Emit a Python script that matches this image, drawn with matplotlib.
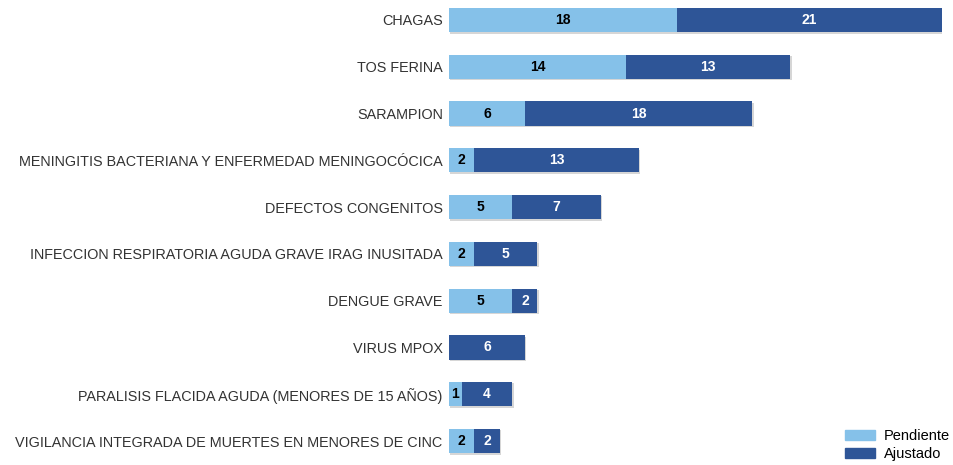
import matplotlib
matplotlib.use("Agg")
import matplotlib.pyplot as plt
import matplotlib.patheffects as pe
from matplotlib.patches import Patch

plt.rcParams['font.family'] = ['Liberation Sans', 'DejaVu Sans']

categories = [
    "CHAGAS",
    "TOS FERINA",
    "SARAMPION",
    "MENINGITIS BACTERIANA Y ENFERMEDAD MENINGOCÓCICA",
    "DEFECTOS CONGENITOS",
    "INFECCION RESPIRATORIA AGUDA GRAVE IRAG INUSITADA",
    "DENGUE GRAVE",
    "VIRUS MPOX",
    "PARALISIS FLACIDA AGUDA (MENORES DE 15 AÑOS)",
    "VIGILANCIA INTEGRADA DE MUERTES EN MENORES DE CINC",
]
pendiente = [18, 14, 6, 2, 5, 2, 5, 0, 1, 2]
ajustado = [21, 13, 18, 13, 7, 5, 2, 6, 4, 2]
series_names = ["Pendiente", "Ajustado"]

c_light = "#85C1E9"
c_dark = "#2E5597"

fig = plt.figure(figsize=(9.54, 4.65), dpi=100)
ax = fig.add_axes([449/954, 0, (942-449)/954, 1])

y = list(range(len(categories)))
shadow = [pe.SimplePatchShadow(offset=(1.0, -1.0), shadow_rgbFace='#999999', alpha=0.4), pe.Normal()]
ax.barh(y, pendiente, height=0.52, color=c_light, path_effects=shadow)
ax.barh(y, ajustado, left=pendiente, height=0.52, color=c_dark, path_effects=shadow)

for i in y:
    if pendiente[i] > 0:
        ax.text(pendiente[i] / 2, i, str(pendiente[i]), ha='center', va='center',
                fontsize=10, fontweight='bold', color='black')
    if ajustado[i] > 0:
        ax.text(pendiente[i] + ajustado[i] / 2, i, str(ajustado[i]), ha='center', va='center',
                fontsize=10, fontweight='bold', color='white')

ax.set_xlim(0, 39)
ax.set_ylim(9 + (465 - 441) / 46.78, -20 / 46.78)
ax.set_yticks(y)
ax.set_yticklabels(categories, fontsize=10.35, color='#333333')
ax.tick_params(axis='y', length=0, pad=4.5)
ax.set_xticks([])
for s in ax.spines.values():
    s.set_visible(False)

handles = [Patch(color=c_light), Patch(color=c_dark)]
fig.legend(handles, series_names, loc='lower right', bbox_to_anchor=(1.0, 0.0),
           frameon=False, fontsize=10.5, handlelength=2.1, handleheight=0.7,
           labelspacing=0.3, handletextpad=0.6, borderaxespad=0.0, borderpad=0.25)

fig.savefig("out.png", dpi=100)
